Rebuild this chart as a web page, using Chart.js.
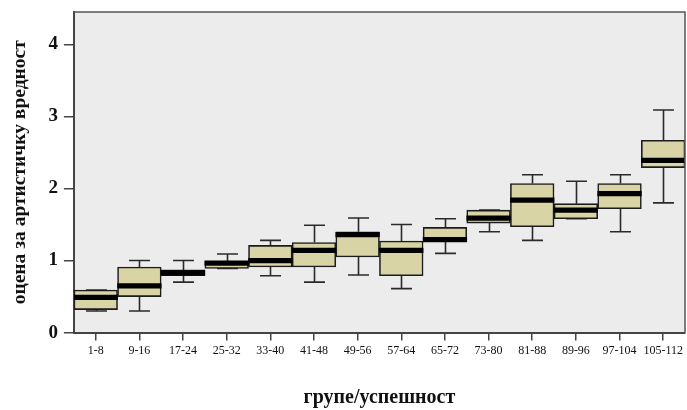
<!DOCTYPE html>
<html>
<head>
<meta charset="utf-8">
<script src="https://cdn.jsdelivr.net/npm/chart.js@4.4.1/dist/chart.umd.min.js"></script>
<style>
  html, body { margin: 0; padding: 0; background: #fff; }
  #wrap { width: 687px; height: 410px; }
</style>
</head>
<body>
<div id="wrap"><canvas id="grafico" width="687" height="410"></canvas></div>
<script>
// groups (x categories)
const grupe = ["1-8", "9-16", "17-24", "25-32", "33-40", "41-48", "49-56", "57-64",
  "65-72", "73-80", "81-88", "89-96", "97-104", "105-112"];

// box plot values
const minimum = [0.30, 0.30, 0.70, 0.89, 0.79, 0.70, 0.80, 0.61, 1.10, 1.40, 1.28, 1.58, 1.40, 1.80];
const kvartil1 = [0.32, 0.50, 0.79, 0.89, 0.91, 0.91, 1.05, 0.79, 1.27, 1.52, 1.47, 1.58, 1.72, 2.29];
const medijana = [0.49, 0.65, 0.83, 0.965, 1.00, 1.14, 1.36, 1.14, 1.29, 1.59, 1.84, 1.70, 1.93, 2.39];
const kvartil3 = [0.59, 0.91, 0.87, 0.99, 1.21, 1.25, 1.40, 1.27, 1.46, 1.70, 2.07, 1.79, 2.07, 2.67];
const maksimum = [0.59, 1.00, 1.00, 1.09, 1.28, 1.49, 1.59, 1.50, 1.58, 1.70, 2.19, 2.10, 2.19, 3.09];

const yTicks = [0, 1, 2, 3, 4];

const boje = {
  kutija: "#d9d4a6",
  ivica: "#1c1c1c",
  pozadina: "#ececec",
  osa: "#444444"
};

const debljinaMedijane = 0.032;

// plot background + frame
const okvirPlugin = {
  id: "okvir",
  beforeDraw(chart) {
    const { ctx, chartArea: a } = chart;
    ctx.save();
    ctx.fillStyle = boje.pozadina;
    ctx.fillRect(a.left, a.top, a.right - a.left, a.bottom - a.top);
    ctx.restore();
  },
  afterDraw(chart) {
    const { ctx, chartArea: a } = chart;
    ctx.save();
    ctx.strokeStyle = "#555";
    ctx.lineWidth = 1.5;
    ctx.beginPath();
    ctx.moveTo(a.left, a.top);
    ctx.lineTo(a.right, a.top);
    ctx.lineTo(a.right, a.bottom);
    ctx.stroke();
    ctx.restore();
  }
};

// whiskers drawn through the scales
const brkoviPlugin = {
  id: "brkovi",
  beforeDatasetsDraw(chart) {
    const { ctx, scales: { x, y } } = chart;
    const sirina = x.width / grupe.length;
    const pola = sirina * 0.24;
    ctx.save();
    ctx.strokeStyle = "#2a2a2a";
    ctx.lineWidth = 1.6;
    grupe.forEach((g, i) => {
      const cx = Math.round(x.getPixelForValue(i)) + 0.5;
      const yMin = y.getPixelForValue(minimum[i]);
      const yMax = y.getPixelForValue(maksimum[i]);
      const yQ1 = y.getPixelForValue(kvartil1[i]);
      const yQ3 = y.getPixelForValue(kvartil3[i]);
      ctx.beginPath();
      ctx.moveTo(cx, yQ3); ctx.lineTo(cx, yMax);
      ctx.moveTo(cx, yQ1); ctx.lineTo(cx, yMin);
      ctx.moveTo(cx - pola, yMax); ctx.lineTo(cx + pola, yMax);
      ctx.moveTo(cx - pola, yMin); ctx.lineTo(cx + pola, yMin);
      ctx.stroke();
    });
    ctx.restore();
  }
};

const serif = "'Liberation Serif', 'Times New Roman', serif";

new Chart(document.getElementById("grafico"), {
  type: "bar",
  data: {
    labels: grupe,
    datasets: [
      {
        label: "медијана",
        data: medijana.map(m => [m - debljinaMedijane, m + debljinaMedijane]),
        backgroundColor: "#000",
        borderWidth: 0,
        grouped: false,
        barPercentage: 1,
        categoryPercentage: 1,
        order: 0
      },
      {
        label: "кутија",
        data: kvartil1.map((q, i) => [q, kvartil3[i]]),
        backgroundColor: boje.kutija,
        borderColor: boje.ivica,
        borderWidth: 1.6,
        borderSkipped: false,
        grouped: false,
        barPercentage: 1,
        categoryPercentage: 1,
        order: 1
      }
    ]
  },
  options: {
    responsive: false,
    animation: false,
    devicePixelRatio: 1,
    layout: { padding: { left: 8, right: 2, top: 12, bottom: 0 } },
    plugins: {
      legend: { display: false },
      tooltip: { enabled: false }
    },
    scales: {
      x: {
        offset: true,
        grid: { offset: false, drawOnChartArea: false, drawTicks: true, tickLength: 8, color: boje.osa, lineWidth: 1.5 },
        border: { display: true, color: boje.osa, width: 2 },
        ticks: { color: "#111", font: { family: serif, size: 12 }, padding: 3, maxRotation: 0, autoSkip: false },
        title: {
          display: true,
          text: "групе/успешност",
          color: "#111",
          font: { family: serif, size: 20, weight: "bold" },
          padding: { top: 25, bottom: 0 }
        }
      },
      y: {
        min: 0,
        max: 4.45,
        afterBuildTicks: s => { s.ticks = yTicks.map(v => ({ value: v })); },
        afterFit: s => { s.paddingTop = 0; },
        grid: { drawOnChartArea: false, drawTicks: true, tickLength: 10, color: boje.osa, lineWidth: 1.5 },
        border: { display: true, color: boje.osa, width: 2 },
        ticks: { color: "#111", font: { family: serif, size: 19, weight: "bold" }, padding: 6 },
        title: {
          display: true,
          text: "оцена за артистичку вредност",
          color: "#111",
          font: { family: serif, size: 19.5, weight: "bold" },
          padding: { top: 0, bottom: 11 }
        }
      }
    }
  },
  plugins: [okvirPlugin, brkoviPlugin]
});
</script>
</body>
</html>
